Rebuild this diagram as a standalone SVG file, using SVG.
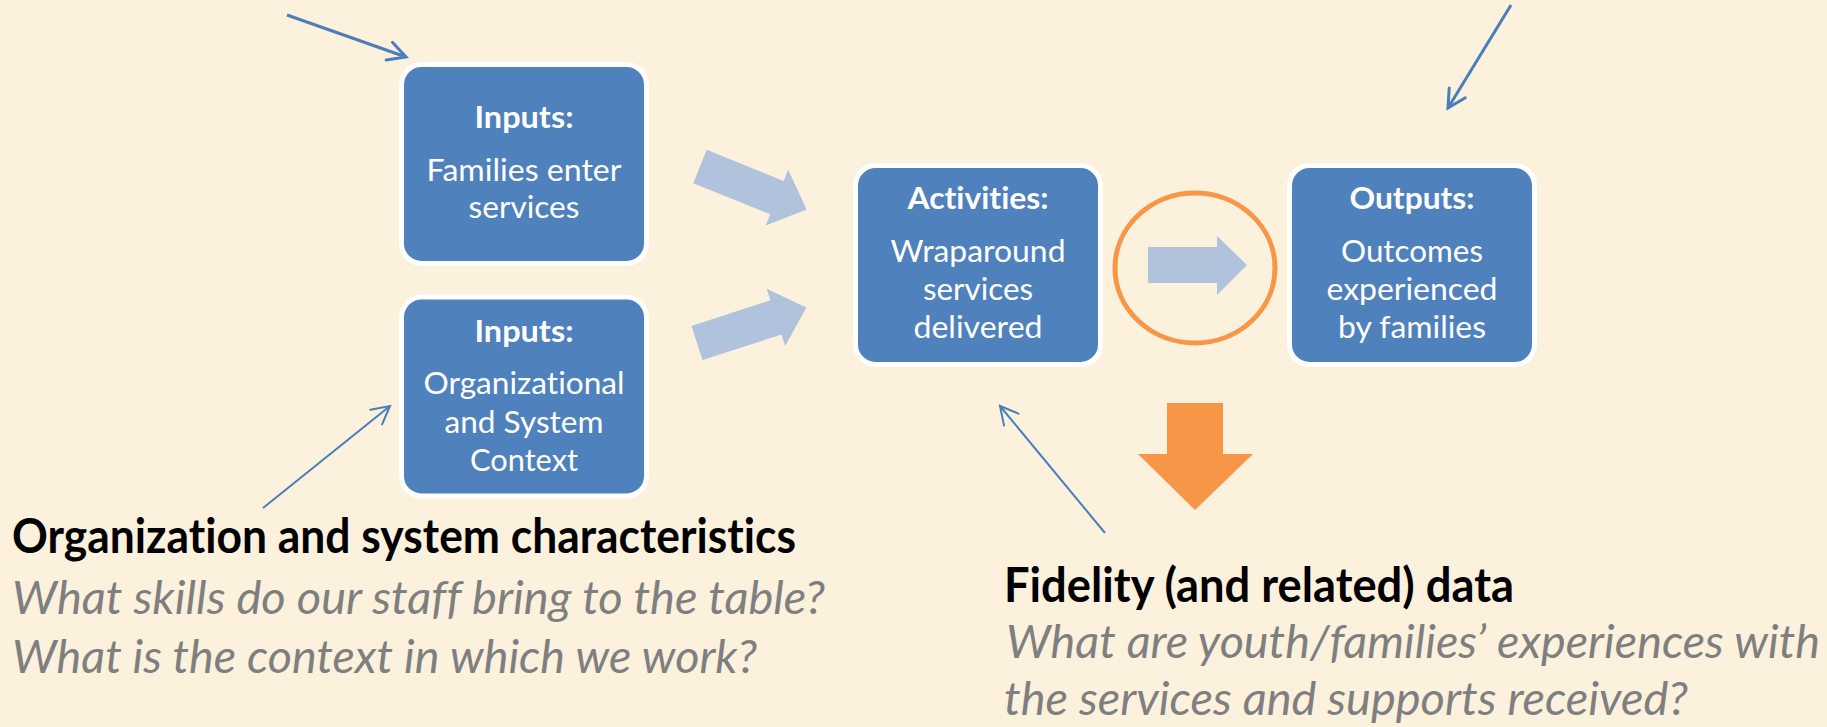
<svg xmlns="http://www.w3.org/2000/svg" width="1827" height="727" viewBox="0 0 1827 727">
<style>
text{font-variant-ligatures:none;font-feature-settings:"liga" 0,"clig" 0}
.box{fill:#4F81BD;stroke:#FFFFFF;stroke-width:5}
.bt{font-family:Lato,"Open Sans","Liberation Sans",sans-serif;font-size:31px;fill:#FFFFFF;text-anchor:middle}
.bold{font-weight:bold}
.head{font-family:Lato,"Open Sans","Liberation Sans",sans-serif;font-size:47px;font-weight:bold;fill:#000000}
.q{font-family:Lato,"Open Sans","Liberation Sans",sans-serif;font-size:46px;font-style:italic;fill:#7F7F7F}
.blk{fill:#B1C2DC}
.thick{stroke:#4A7EBB;stroke-width:3;fill:none}
.thin{stroke:#4A7EBB;stroke-width:2;fill:none}
</style>
<defs>
<marker id="ah3" viewBox="-22 -13 26 26" refX="0" refY="0" markerWidth="26" markerHeight="26" markerUnits="userSpaceOnUse" orient="auto">
<path d="M-17.7,-9.4 L0,0 L-17.7,9.4" fill="none" stroke="#4A7EBB" stroke-width="3" stroke-linecap="round" stroke-linejoin="miter"/>
</marker>
<marker id="ah2" viewBox="-22 -13 26 26" refX="0" refY="0" markerWidth="26" markerHeight="26" markerUnits="userSpaceOnUse" orient="auto">
<path d="M-17.7,-9.4 L0,0 L-17.7,9.4" fill="none" stroke="#4A7EBB" stroke-width="2" stroke-linecap="round"/>
</marker>
</defs>
<rect width="1827" height="727" fill="#FBF1DD"/>

<g id="connectors">
<polygon class="blk" transform="translate(700,166.5) rotate(22)" points="0,-18 83,-18 83,-30 115,0 83,30 83,18 0,18"/>
<polygon class="blk" transform="translate(697,343) rotate(-18)" points="0,-18 83,-18 83,-30 115,0 83,30 83,18 0,18"/>
<polygon class="blk" points="1148,247 1217,247 1217,236 1247,265 1217,295 1217,283 1148,283"/>
<ellipse cx="1195" cy="268" rx="80" ry="75" fill="none" stroke="#F79646" stroke-width="5"/>
<polygon fill="#F79646" points="1167,403 1223,403 1223,454 1253,454 1195,510 1138,454 1167,454"/>
<line class="thick" x1="287" y1="15" x2="406" y2="57" marker-end="url(#ah3)"/>
<line class="thick" x1="1511" y1="5" x2="1448" y2="108" marker-end="url(#ah3)"/>
<line class="thin" x1="263" y1="508" x2="390" y2="406" marker-end="url(#ah2)"/>
<line class="thin" x1="1105" y1="533" x2="1000" y2="406" marker-end="url(#ah2)"/>
</g>

<g id="inputs-families">
<rect class="box" x="401.5" y="64.5" width="245" height="199" rx="20"/>
<text class="bt bold" x="524" y="128" textLength="99" lengthAdjust="spacingAndGlyphs">Inputs:</text>
<text class="bt" x="524" y="181" textLength="195" lengthAdjust="spacingAndGlyphs">Families enter</text>
<text class="bt" x="524" y="218" textLength="111" lengthAdjust="spacingAndGlyphs">services</text>
</g>

<g id="inputs-org">
<rect class="box" x="401.5" y="297" width="245" height="199" rx="20"/>
<text class="bt bold" x="524" y="342" textLength="99" lengthAdjust="spacingAndGlyphs">Inputs:</text>
<text class="bt" x="524" y="394" textLength="201" lengthAdjust="spacingAndGlyphs">Organizational</text>
<text class="bt" x="524" y="433" textLength="159" lengthAdjust="spacingAndGlyphs">and System</text>
<text class="bt" x="524" y="471" textLength="108" lengthAdjust="spacingAndGlyphs">Context</text>
</g>

<g id="activities">
<rect class="box" x="855.5" y="165.5" width="245" height="199" rx="20"/>
<text class="bt bold" x="978" y="209" textLength="141" lengthAdjust="spacingAndGlyphs">Activities:</text>
<text class="bt" x="978" y="262" textLength="175" lengthAdjust="spacingAndGlyphs">Wraparound</text>
<text class="bt" x="978" y="300" textLength="110" lengthAdjust="spacingAndGlyphs">services</text>
<text class="bt" x="978" y="338" textLength="129" lengthAdjust="spacingAndGlyphs">delivered</text>
</g>

<g id="outputs">
<rect class="box" x="1289.5" y="165.5" width="245" height="199" rx="20"/>
<text class="bt bold" x="1412" y="209" textLength="125" lengthAdjust="spacingAndGlyphs">Outputs:</text>
<text class="bt" x="1412" y="262" textLength="142" lengthAdjust="spacingAndGlyphs">Outcomes</text>
<text class="bt" x="1412" y="300" textLength="171" lengthAdjust="spacingAndGlyphs">experienced</text>
<text class="bt" x="1412" y="338" textLength="148" lengthAdjust="spacingAndGlyphs">by families</text>
</g>

<g id="org-characteristics">
<text class="head" x="12" y="553" textLength="784" lengthAdjust="spacingAndGlyphs">Organization and system characteristics</text>
<text class="q" x="12" y="614" textLength="813" lengthAdjust="spacingAndGlyphs">What skills do our staff bring to the table?</text>
<text class="q" x="12" y="673" textLength="745" lengthAdjust="spacingAndGlyphs">What is the context in which we work?</text>
</g>

<g id="fidelity-data">
<text class="head" x="1004" y="602" textLength="510" lengthAdjust="spacingAndGlyphs">Fidelity (and related) data</text>
<text class="q" x="1006" y="658" textLength="814" lengthAdjust="spacingAndGlyphs">What are youth/families’ experiences with</text>
<text class="q" x="1004" y="715" textLength="684" lengthAdjust="spacingAndGlyphs">the services and supports received?</text>
</g>
</svg>
